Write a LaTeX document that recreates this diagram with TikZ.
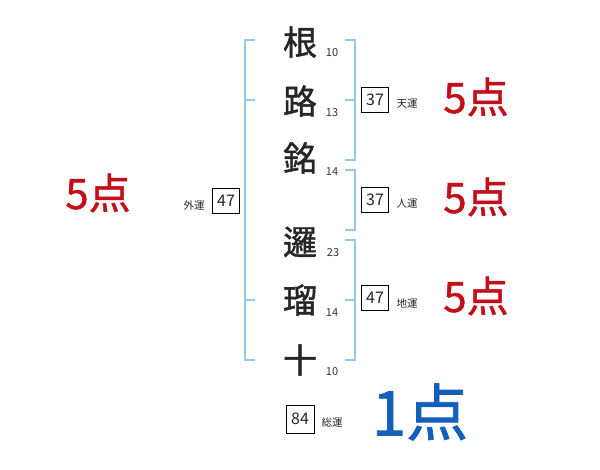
\documentclass[tikz,border=0pt]{standalone}
\usepackage{fontspec}
\setmainfont{Noto Sans CJK JP}
\newfontfamily\cjk{Noto Sans CJK JP}
\newfontfamily\cjkb[FakeBold=1.2]{Noto Sans CJK JP}
\definecolor{brk}{RGB}{150,200,235}
\definecolor{pred}{RGB}{195,15,25}
\definecolor{pblue}{RGB}{20,95,185}
\begin{document}
\begin{tikzpicture}[x=1pt,y=-1pt,
  bracket/.style={draw=brk,line width=2pt},
  kanji/.style={inner sep=0pt,font=\cjkb\fontsize{34}{34}\selectfont,text=black!85},
  stroke/.style={inner sep=0pt,font=\cjk\fontsize{11}{11}\selectfont,text=black!80},
  valbox/.style={draw=black,line width=0.8pt,minimum width=27pt,minimum height=25pt,inner sep=0pt,font=\cjk\fontsize{16}{16}\selectfont,text=black!85},
  kind/.style={inner sep=0pt,font=\cjk\fontsize{10.5}{10.5}\selectfont,text=black!85},
  score/.style={inner sep=0pt,font=\cjkb\fontsize{42}{42}\selectfont,text=pred},
  bigscore/.style={inner sep=0pt,font=\cjkb\fontsize{62}{62}\selectfont,text=pblue}]
\useasboundingbox (0,0) rectangle (600,470);
% brackets
\draw[bracket] (255,40) -- (245,40) -- (245,360) -- (255,360);
\draw[bracket] (245,100) -- (255,100);
\draw[bracket] (245,300) -- (255,300);
\draw[bracket] (345,40) -- (355,40) -- (355,160) -- (345,160);
\draw[bracket] (345,100) -- (355,100);
\draw[bracket] (345,170) -- (355,170) -- (355,230) -- (345,230);
\draw[bracket] (345,240) -- (355,240) -- (355,360) -- (345,360);
\draw[bracket] (345,300) -- (355,300);
% characters
\node[kanji] (c1) at (300,42) {根};
\node[kanji] (c2) at (300,101) {路};
\node[kanji] (c3) at (300,158) {銘};
\node[kanji] (c4) at (300,242) {邏};
\node[kanji] (c5) at (300,300) {瑠};
\node[kanji] (c6) at (300,360) {十};
\node[stroke] (n1) at (332,53) {10};
\node[stroke] (n2) at (332,113) {13};
\node[stroke] (n3) at (332,172) {14};
\node[stroke] (n4) at (333,253) {23};
\node[stroke] (n5) at (332,313) {14};
\node[stroke] (n6) at (332,372) {10};
% boxes
\node[valbox] (ten) at (375,100) {37};
\node[kind] (tenl) at (407,104) {天運};
\node[valbox] (jin) at (375,200) {37};
\node[kind] (jinl) at (407,204) {人運};
\node[valbox] (chi) at (375,298) {47};
\node[kind] (chil) at (407,303) {地運};
\node[valbox] (gai) at (226,201) {47};
\node[kind] (gail) at (194,205) {外運};
\node[valbox,minimum width=28pt,minimum height=28pt] (so) at (300,419) {84};
\node[kind] (sol) at (332,422) {総運};
% scores
\node[score] (s1) at (476,97) {5点};
\node[score] (s2) at (476,197) {5点};
\node[score] (s3) at (476,296) {5点};
\node[score] (s4) at (98,193) {5点};
\node[bigscore] (s5) at (420,412) {1点};
\end{tikzpicture}
\end{document}
